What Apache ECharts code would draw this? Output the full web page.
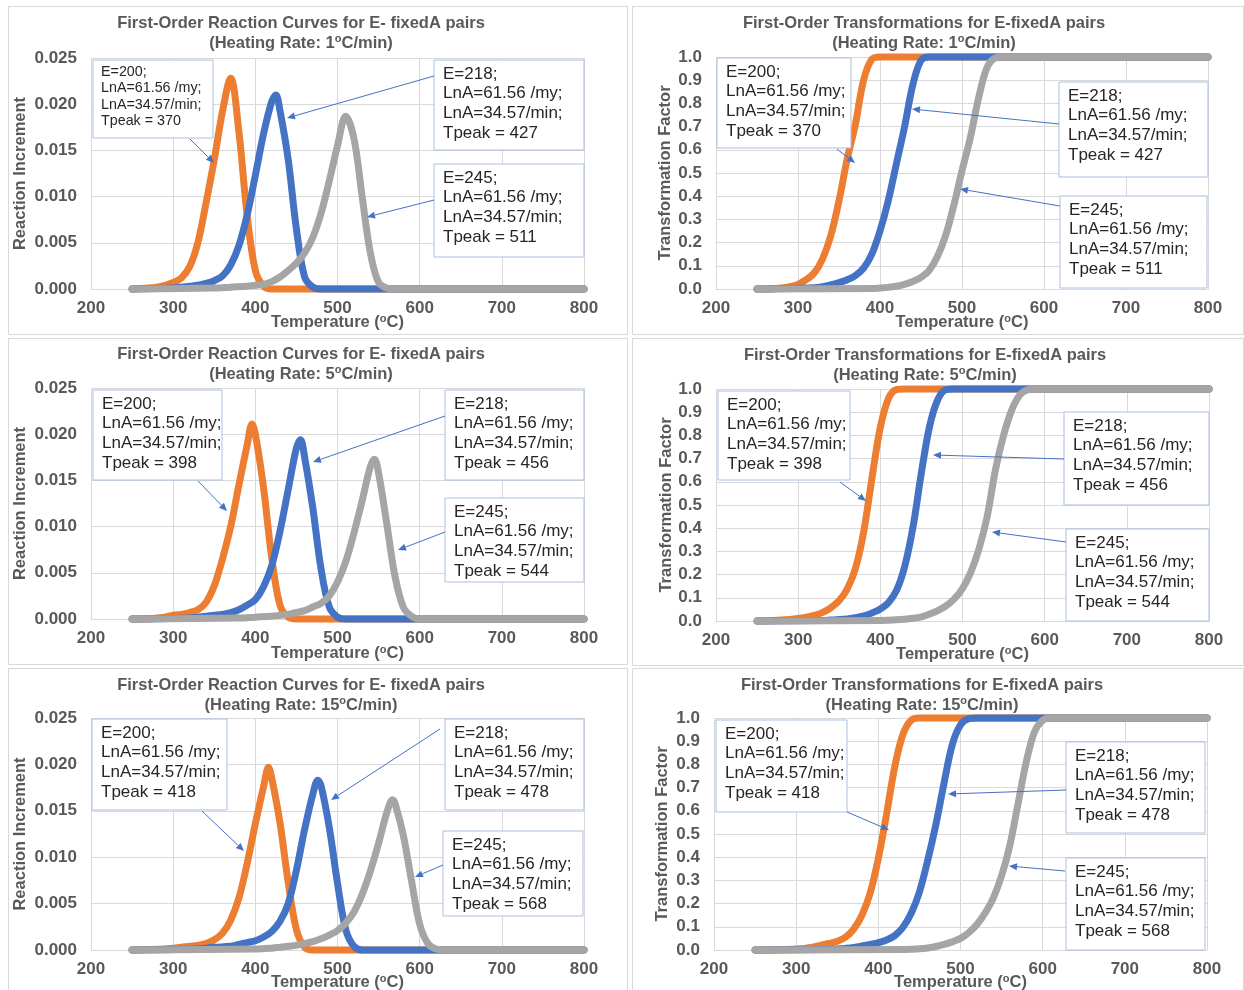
<!DOCTYPE html>
<html>
<head>
<meta charset="utf-8">
<script src="https://cdn.jsdelivr.net/npm/echarts@6/dist/echarts.min.js"></script>
<style>
  html, body { margin: 0; padding: 0; background: #fff; }
  #chart-wrapper { width: 1244px; height: 990px; }
</style>
</head>
<body>
<div id="chart-wrapper"></div>
<script>
// ---- values, [temperature degC, value] ----
const energies = [200, 218, 245];
const tpeakRate1 = [370, 427, 511];
const tpeakRate5 = [398, 456, 544];
const tpeakRate15 = [418, 478, 568];

// reaction increment, 1 C/min
const r1Orange = [[250,0],[270,0.0001],[280,0.0002],[290,0.0004],[300,0.0007],[310,0.0012],[320,0.0024],[330,0.0050],[340,0.0093],[350,0.0140],[360,0.0192],[370,0.0228],[380,0.0170],[390,0.0080],[400,0.0020],[410,0.0003],[420,0],[800,0]];
const r1Blue = [[250,0],[300,0.0001],[310,0.0002],[320,0.0003],[330,0.0004],[340,0.0006],[350,0.0009],[360,0.0014],[370,0.0026],[380,0.0047],[390,0.0080],[400,0.0123],[410,0.0168],[420,0.0203],[425,0.0210],[430,0.0193],[440,0.0140],[450,0.0065],[460,0.0013],[470,0.0002],[480,0],[800,0]];
const r1Gray = [[250,0],[350,0.0001],[370,0.0002],[390,0.0003],[400,0.0004],[410,0.0005],[420,0.0008],[430,0.0013],[440,0.0020],[450,0.0028],[460,0.0039],[470,0.0056],[480,0.0082],[490,0.0117],[500,0.0155],[510,0.0187],[520,0.0163],[530,0.0100],[540,0.0039],[550,0.0007],[560,0.0001],[570,0],[800,0]];

// transformation factor, 1 C/min
const t1Orange = [[250,0],[270,0.001],[280,0.004],[290,0.010],[300,0.020],[310,0.040],[320,0.070],[330,0.130],[340,0.230],[350,0.380],[360,0.560],[370,0.710],[380,0.900],[390,0.990],[400,1],[800,1]];
const t1Blue = [[250,0],[320,0.005],[330,0.010],[340,0.018],[350,0.028],[360,0.040],[370,0.058],[380,0.090],[390,0.150],[400,0.250],[410,0.380],[420,0.540],[430,0.700],[440,0.880],[450,0.985],[460,1],[800,1]];
const t1Gray = [[250,0],[390,0.002],[400,0.004],[410,0.007],[420,0.012],[430,0.020],[440,0.032],[450,0.050],[460,0.080],[470,0.140],[480,0.230],[490,0.360],[500,0.510],[510,0.650],[520,0.820],[530,0.950],[540,0.995],[550,1],[800,1]];

// reaction increment, 5 C/min
const r5Orange = [[250,0],[270,0],[280,0.0001],[290,0.0002],[300,0.0004],[310,0.0005],[320,0.0007],[330,0.0010],[340,0.0018],[350,0.0036],[360,0.0065],[370,0.0100],[380,0.0145],[390,0.0188],[396,0.0211],[400,0.0200],[410,0.0142],[420,0.0066],[430,0.0015],[440,0.0002],[450,0],[800,0]];
const r5Blue = [[250,0],[320,0.0001],[330,0.0002],[340,0.0003],[350,0.0004],[360,0.0005],[370,0.0007],[380,0.0010],[390,0.0015],[400,0.0021],[410,0.0035],[420,0.0058],[430,0.0095],[440,0.0140],[450,0.0185],[455,0.0194],[460,0.0175],[470,0.0120],[480,0.0054],[490,0.0013],[500,0.0002],[510,0],[800,0]];
const r5Gray = [[250,0],[380,0.0001],[400,0.0002],[420,0.0003],[430,0.0004],[440,0.0005],[450,0.0007],[460,0.0009],[470,0.0013],[480,0.0017],[490,0.0025],[500,0.0040],[510,0.0062],[520,0.0093],[530,0.0128],[540,0.0165],[545,0.0173],[550,0.0158],[560,0.0103],[570,0.0046],[580,0.0013],[590,0.0003],[600,0],[800,0]];

// transformation factor, 5 C/min
const t5Orange = [[250,0],[270,0.002],[280,0.004],[290,0.007],[300,0.011],[310,0.016],[320,0.024],[330,0.037],[340,0.058],[350,0.088],[360,0.140],[370,0.230],[380,0.390],[390,0.620],[400,0.835],[410,0.960],[420,0.998],[430,1],[800,1]];
const t5Blue = [[250,0],[330,0.002],[340,0.004],[350,0.006],[360,0.009],[370,0.014],[380,0.022],[390,0.035],[400,0.052],[410,0.080],[420,0.134],[430,0.240],[440,0.410],[450,0.640],[460,0.840],[470,0.955],[480,0.997],[490,1],[800,1]];
const t5Gray = [[250,0],[400,0.002],[420,0.005],[440,0.012],[450,0.018],[460,0.030],[470,0.045],[480,0.065],[490,0.095],[500,0.140],[510,0.210],[520,0.310],[530,0.450],[540,0.650],[550,0.800],[560,0.910],[570,0.975],[580,0.997],[590,1],[800,1]];

// reaction increment, 15 C/min
const r15Orange = [[250,0],[290,0.0001],[300,0.0002],[310,0.0003],[320,0.0004],[330,0.0005],[340,0.0007],[350,0.0011],[360,0.0018],[370,0.0032],[380,0.0056],[390,0.0093],[400,0.0136],[410,0.0176],[416,0.0197],[420,0.0185],[430,0.0137],[440,0.0073],[450,0.0022],[460,0.0003],[470,0],[800,0]];
const r15Blue = [[250,0],[330,0.0001],[340,0.0002],[350,0.0003],[370,0.0004],[380,0.0006],[390,0.0008],[400,0.0010],[410,0.0014],[420,0.0020],[430,0.0031],[440,0.0050],[450,0.0086],[460,0.0130],[470,0.0168],[476,0.0183],[480,0.0177],[490,0.0132],[500,0.0072],[510,0.0022],[520,0.0004],[530,0],[800,0]];
const r15Gray = [[250,0],[400,0.0001],[420,0.0002],[430,0.0003],[440,0.0004],[450,0.0005],[460,0.0007],[470,0.0009],[480,0.0012],[490,0.0016],[500,0.0021],[510,0.0029],[520,0.0041],[530,0.0060],[540,0.0085],[550,0.0115],[560,0.0148],[567,0.0162],[570,0.0158],[580,0.0124],[590,0.0075],[600,0.0028],[610,0.0007],[620,0.0001],[630,0],[800,0]];

// transformation factor, 15 C/min
const t15Orange = [[250,0],[280,0.001],[290,0.002],[300,0.004],[310,0.007],[320,0.012],[330,0.020],[340,0.028],[350,0.038],[360,0.055],[370,0.090],[380,0.150],[390,0.245],[400,0.395],[410,0.585],[420,0.790],[430,0.930],[440,0.990],[450,1],[800,1]];
const t15Blue = [[250,0],[340,0.002],[350,0.004],[360,0.007],[370,0.011],[380,0.017],[390,0.024],[400,0.032],[410,0.043],[420,0.062],[430,0.098],[440,0.158],[450,0.250],[460,0.385],[470,0.540],[480,0.720],[490,0.885],[500,0.970],[510,0.997],[520,1],[800,1]];
const t15Gray = [[250,0],[430,0.002],[440,0.003],[450,0.005],[460,0.009],[470,0.015],[480,0.024],[490,0.035],[500,0.050],[510,0.075],[520,0.110],[530,0.160],[540,0.225],[550,0.320],[560,0.450],[570,0.630],[580,0.810],[590,0.940],[600,0.990],[610,1],[800,1]];

// ---- styling ----
const FONT = '"Liberation Sans", Arial, sans-serif';
const TXT = '#595959';
const GRID_COLOR = '#D9D9D9';
const LINE_COLORS = ['#ED7D31', '#4472C4', '#A5A5A5'];
const ARROW_COLOR = '#4472C4';
const BOX_BORDER = '#A9C1E3';

const reactionTitle = 'First-Order Reaction Curves for E- fixedA pairs';
const transformTitle = 'First-Order Transformations for E-fixedA pairs';

// layout of the six panels (pixel positions of grids, titles, callouts)
const panels = [
  { kind: 'r', rate: 1, grid: [91, 58, 493, 231], title: [301, 13], yGap: 61, xGap: 24,
    data: [r1Orange, r1Blue, r1Gray], tpeak: tpeakRate1, smallFirst: true,
    boxes: [[93, 60, 213, 138], [434, 60, 584, 150], [434, 164, 584, 257]],
    arrows: [[190, 139, 214, 163], [434, 76, 287, 118], [434, 200, 367, 217]] },
  { kind: 't', rate: 1, grid: [716, 57, 492, 232], title: [924, 13], yGap: 41, xGap: 24,
    data: [t1Orange, t1Blue, t1Gray], tpeak: tpeakRate1,
    boxes: [[717, 58, 851, 148], [1059, 82, 1208, 177], [1060, 196, 1207, 288]],
    arrows: [[837, 149, 855, 163], [1059, 124, 912, 109], [1060, 206, 960, 189]] },
  { kind: 'r', rate: 5, grid: [91, 388, 493, 231], title: [301, 344], yGap: 61, xGap: 25,
    data: [r5Orange, r5Blue, r5Gray], tpeak: tpeakRate5,
    boxes: [[93, 390, 222, 480], [445, 390, 584, 480], [445, 498, 584, 582]],
    arrows: [[198, 481, 227, 511], [445, 416, 313, 462], [445, 532, 398, 550]] },
  { kind: 't', rate: 5, grid: [716, 389, 493, 232], title: [925, 345], yGap: 40, xGap: 24,
    data: [t5Orange, t5Blue, t5Gray], tpeak: tpeakRate5,
    boxes: [[718, 391, 850, 480], [1064, 412, 1209, 505], [1066, 529, 1209, 621]],
    arrows: [[840, 482, 866, 501], [1064, 459, 933, 455], [1066, 542, 992, 532]] },
  { kind: 'r', rate: 15, grid: [91, 718, 493, 232], title: [301, 675], yGap: 61, xGap: 23,
    data: [r15Orange, r15Blue, r15Gray], tpeak: tpeakRate15,
    boxes: [[92, 719, 227, 810], [445, 719, 584, 810], [443, 831, 583, 916]],
    arrows: [[202, 811, 244, 851], [440, 729, 331, 800], [443, 865, 415, 877]] },
  { kind: 't', rate: 15, grid: [714, 718, 493, 232], title: [922, 675], yGap: 42, xGap: 23,
    data: [t15Orange, t15Blue, t15Gray], tpeak: tpeakRate15,
    boxes: [[716, 720, 847, 812], [1066, 742, 1205, 833], [1066, 858, 1205, 950]],
    arrows: [[847, 812, 889, 830], [1066, 790, 948, 794], [1065, 871, 1009, 866]] }
];

const panelFrames = [
  [8, 6, 619, 328], [632, 6, 611, 328],
  [8, 338, 619, 326], [632, 338, 611, 327],
  [8, 668, 619, 330], [632, 668, 611, 330]
];

const boldRich = {
  b: { fontSize: 16.5, fontWeight: 'bold', fontFamily: FONT, color: TXT, lineHeight: 19 },
  s: { fontSize: 11, fontWeight: 'bold', fontFamily: FONT, color: TXT, lineHeight: 11, verticalAlign: 'top' }
};

const calloutLines = (e, t) => ['E=' + e + ';', 'LnA=61.56 /my;', 'LnA=34.57/min;', 'Tpeak = ' + t];

const arrow = (x1, y1, x2, y2) => {
  const a = Math.atan2(y2 - y1, x2 - x1);
  const L = 8, W = 3.5;
  const bx = x2 - L * Math.cos(a), by = y2 - L * Math.sin(a);
  return [
    { type: 'line', z: 60, shape: { x1, y1, x2: bx, y2: by }, style: { stroke: ARROW_COLOR, lineWidth: 1 } },
    { type: 'polygon', z: 60, shape: { points: [[x2, y2], [bx - W * Math.sin(a), by + W * Math.cos(a)], [bx + W * Math.sin(a), by - W * Math.cos(a)]] },
      style: { fill: ARROW_COLOR } }
  ];
};

const callout = (b, lines, small) => {
  const fs = small ? 14.3 : 17;
  const lh = small ? 16.3 : 19.7;
  const first = small ? 12 : 14;
  return [
    { type: 'rect', z: 55, shape: { x: b[0], y: b[1], width: b[2] - b[0], height: b[3] - b[1] },
      style: { fill: '#fff', stroke: BOX_BORDER, lineWidth: 1 } },
    { type: 'text', z: 56, x: b[0] + (small ? 8 : 9), y: b[1] + first - lh / 2,
      style: { text: lines.join('\n'), font: fs + 'px ' + FONT, fill: '#262626', lineHeight: lh, verticalAlign: 'top' } }
  ];
};

const init_handler = () => {
  const chartDom = document.getElementById('chart-wrapper');
  const chart = echarts.init(chartDom, null, { renderer: 'canvas' });

  const grids = [], xAxes = [], yAxes = [], series = [], elements = [];

  panelFrames.forEach((f) => {
    elements.push({ type: 'rect', z: 0, shape: { x: f[0] + 0.5, y: f[1] + 0.5, width: f[2], height: f[3] },
      style: { fill: 'none', stroke: GRID_COLOR, lineWidth: 1 } });
  });

  panels.forEach((p, i) => {
    const isR = p.kind === 'r';
    grids.push({ left: p.grid[0], top: p.grid[1], width: p.grid[2], height: p.grid[3], containLabel: false, outerBoundsMode: 'none' });
    xAxes.push({
      type: 'value', gridIndex: i, min: 200, max: 800, interval: 100,
      axisLine: { show: true, lineStyle: { color: GRID_COLOR, width: 1 } },
      axisTick: { show: false },
      splitLine: { show: true, lineStyle: { color: GRID_COLOR, width: 1 } },
      axisLabel: { color: TXT, fontWeight: 'bold', fontSize: 17, fontFamily: FONT, margin: 11 },
      name: '{b|Temperature (}{s|o}{b|C)}', nameLocation: 'middle', nameGap: p.xGap, nameMoveOverlap: false,
      nameTextStyle: { rich: boldRich }
    });
    yAxes.push({
      type: 'value', gridIndex: i, min: 0, max: isR ? 0.025 : 1, interval: isR ? 0.005 : 0.1,
      axisLine: { show: false }, axisTick: { show: false },
      splitLine: { show: true, lineStyle: { color: GRID_COLOR, width: 1 } },
      axisLabel: { color: TXT, fontWeight: 'bold', fontSize: 17, fontFamily: FONT, margin: 14,
        formatter: (v) => v.toFixed(isR ? 3 : 1) },
      name: isR ? 'Reaction Increment' : 'Transformation Factor', nameLocation: 'middle', nameGap: p.yGap, nameMoveOverlap: false,
      nameTextStyle: { color: TXT, fontWeight: 'bold', fontSize: 16.5, fontFamily: FONT, lineHeight: 19 }
    });
    p.data.forEach((d, k) => {
      series.push({
        type: 'line', name: 'E=' + energies[k], xAxisIndex: i, yAxisIndex: i, data: d,
        smooth: 0.35, symbol: 'none', clip: false, silent: true,
        lineStyle: { color: LINE_COLORS[k], width: 7, cap: 'round', join: 'round' }
      });
    });

    const title = '{b|' + (isR ? reactionTitle : transformTitle) + '}\n{b|(Heating Rate: ' + p.rate + '}{s|o}{b|C/min)}';
    elements.push({
      type: 'text', z: 50, x: p.title[0], y: p.title[1],
      style: {
        text: title, align: 'center', verticalAlign: 'top',
        rich: {
          b: { fontSize: 16.5, fontWeight: 'bold', fontFamily: FONT, fill: TXT, lineHeight: 20, align: 'center' },
          s: { fontSize: 11, fontWeight: 'bold', fontFamily: FONT, fill: TXT, lineHeight: 11, verticalAlign: 'top', align: 'center' }
        }
      }
    });

    p.boxes.forEach((b, k) => {
      elements.push(...callout(b, calloutLines(energies[k], p.tpeak[k]), p.smallFirst && k === 0));
    });
    p.arrows.forEach((a) => elements.push(...arrow(a[0], a[1], a[2], a[3])));
  });

  const option = {
    animation: false,
    backgroundColor: '#fff',
    grid: grids,
    xAxis: xAxes,
    yAxis: yAxes,
    series: series,
    graphic: { elements: elements }
  };
  chart.setOption(option);
};

init_handler();
</script>
</body>
</html>
